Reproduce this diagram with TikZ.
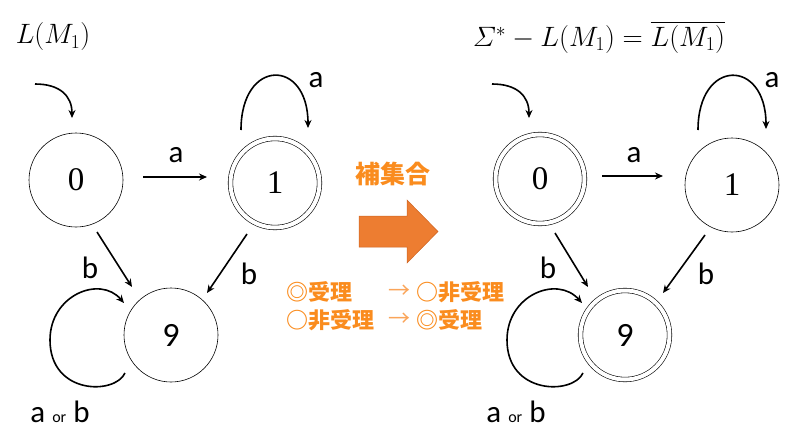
\RequirePackage{fix-cm}
\documentclass[tikz,border=0pt]{standalone}
\usepackage{amsmath}
\usepackage{fontspec}
\newfontfamily\lab{Carlito}
\newfontfamily\dig{Liberation Serif}
\newfontfamily\jp{Noto Sans CJK JP}
\usetikzlibrary{arrows.meta,calc}
\definecolor{orA}{RGB}{237,125,49}
\definecolor{orB}{RGB}{205,100,35}
\definecolor{orT}{RGB}{250,140,30}
\definecolor{orL}{RGB}{250,165,90}
\begin{document}
\begin{tikzpicture}[x=1pt,y=-1pt,
  state/.style={circle,draw,line width=0.6pt,minimum size=94pt,inner sep=0pt,font=\dig\fontsize{33}{36}\selectfont},
  accept/.style={state,minimum size=89pt,double,double distance=4pt},
  edge/.style={line width=1.6pt,-{Stealth[length=8pt,width=7pt]}},
  lbl/.style={font=\lab\fontsize{31}{34}\selectfont,anchor=base,inner sep=0pt},
  ttl/.style={font=\fontsize{28}{32}\selectfont,inner sep=0pt},
  jbig/.style={font=\jp\bfseries\fontsize{25}{28}\selectfont,text=orT,inner sep=0pt},
  jtxt/.style={font=\jp\bfseries\fontsize{22}{24}\selectfont,text=orT,inner sep=0pt,anchor=west},
  jarr/.style={font=\jp\fontsize{22}{24}\selectfont,text=orL,inner sep=0pt}
]
\useasboundingbox (0,0) rectangle (800,447);

% ---------- left automaton ----------
\node[ttl] (t1) at (53,37) {$L(M_1)$};
\node[state] (s0) at (76,180) {0};
\node[accept] (s1) at (275,183) {1};
\node[state,font=\lab\fontsize{34}{38}\selectfont] (s9) at (171,335) {9};
\coordinate (i0s) at (35,84);
\coordinate (i0e) at (72,118);
\draw[edge] (i0s) .. controls (60,84) and (72,96) .. (i0e);
\draw[edge] ($(s0)+(67,-3)$) -- ($(s1)+(-68,-6)$);
\draw[edge] ($(s1)+(-34,-53)$) .. controls ($(s1)+(-34,-125)$) and ($(s1)+(33,-125)$) .. ($(s1)+(33,-55)$);
\draw[edge] ($(s0)+(21,52)$) -- ($(s9)+(-39,-48)$);
\draw[edge] ($(s1)+(-28,51)$) -- ($(s9)+(36,-42)$);
\draw[edge] ($(s9)+(-46,38)$) .. controls ($(s9)+(-56,60)$) and ($(s9)+(-121,60)$) .. ($(s9)+(-121,5)$)
  .. controls ($(s9)+(-121,-40)$) and ($(s9)+(-71,-60)$) .. ($(s9)+(-47,-32)$);
\node[lbl] (la1) at (176,162) {a};
\node[lbl] (la2) at (316,87) {a};
\node[lbl] (lb1) at (90,278) {b};
\node[lbl] (lb2) at (249,284) {b};
\node[lbl] (lab1) at (60,422) {a {\fontsize{16}{18}\selectfont or} b};

% ---------- middle ----------
\node[jbig] (hs) at (393,174) {補集合};
\draw[fill=orA,draw=orB,line width=0.5pt] (359,216) -- (407,216) -- (407,200) -- (438,231.5) -- (407,263) -- (407,247) -- (359,247) -- cycle;
\node[jtxt] (m11) at (286,292) {◎受理};
\node[jarr] (m12) at (399,292) {→};
\node[jtxt] (m13) at (416,292) {○非受理};
\node[jtxt] (m21) at (286,320) {○非受理};
\node[jarr] (m22) at (399,320) {→};
\node[jtxt] (m23) at (416,320) {◎受理};

% ---------- right automaton ----------
\node[ttl] (t2) at (599,37) {$\varSigma^{*} - L(M_1) = \overline{L(M_1)}$};
\node[accept] (r0) at (540,179) {0};
\node[state] (r1) at (732,185) {1};
\node[accept,font=\lab\fontsize{34}{38}\selectfont] (r9) at (625,335) {9};
\coordinate (j0s) at (492,84);
\coordinate (j0e) at (529,118);
\draw[edge] (j0s) .. controls (517,84) and (529,96) .. (j0e);
\draw[edge] ($(r0)+(62,-3)$) -- ($(r1)+(-69,-9)$);
\draw[edge] ($(r1)+(-34,-55)$) .. controls ($(r1)+(-34,-127)$) and ($(r1)+(34,-127)$) .. ($(r1)+(34,-56)$);
\draw[edge] ($(r0)+(15,54)$) -- ($(r9)+(-37,-48)$);
\draw[edge] ($(r1)+(-27,50)$) -- ($(r9)+(38,-42)$);
\draw[edge] ($(r9)+(-42,38)$) .. controls ($(r9)+(-52,60)$) and ($(r9)+(-118,60)$) .. ($(r9)+(-118,5)$)
  .. controls ($(r9)+(-118,-40)$) and ($(r9)+(-68,-60)$) .. ($(r9)+(-43,-32)$);
\node[lbl] (ra1) at (634,162) {a};
\node[lbl] (ra2) at (772,87) {a};
\node[lbl] (rb1) at (548,278) {b};
\node[lbl] (rb2) at (706,284) {b};
\node[lbl] (rab1) at (516,422) {a {\fontsize{16}{18}\selectfont or} b};
\end{tikzpicture}
\end{document}
